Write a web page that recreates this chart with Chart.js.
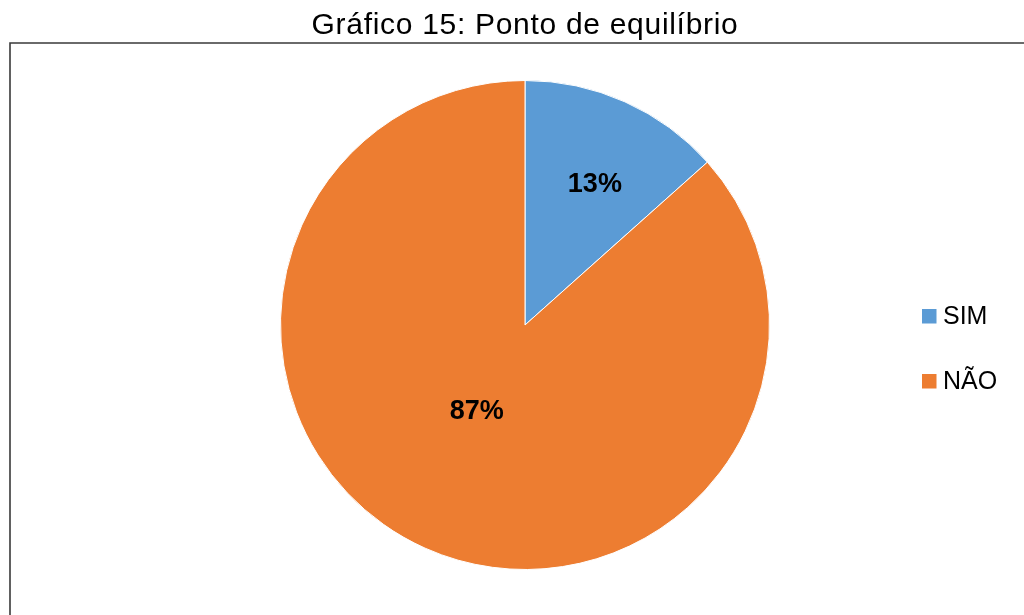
<!DOCTYPE html>
<html>
<head>
<meta charset="utf-8">
<script src="https://cdn.jsdelivr.net/npm/chart.js@4/dist/chart.umd.min.js"></script>
<style>
html,body{margin:0;padding:0;background:#fff;}
#wrap{width:1024px;height:615px;position:relative;}
</style>
</head>
<body>
<div id="wrap"><canvas id="c" width="1024" height="615"></canvas></div>
<script>
const titleText = 'Gráfico 15: Ponto de equilíbrio';
const categories = ['SIM', 'NÃO'];
const values = [13.4, 86.6];
const sliceColors = ['#5B9BD5', '#ED7D31'];
const labelRadiusFrac = [0.64, 0.405];
const labelAngleShiftDeg = [2.4, 5.1];

const FONT = "'Liberation Sans', Arial, sans-serif";

const framePlugin = {
  id: 'frame',
  beforeDraw(chart) {
    const ctx = chart.ctx;
    ctx.save();
    ctx.fillStyle = '#fff';
    ctx.fillRect(0, 0, chart.width, chart.height);
    ctx.strokeStyle = '#3a3a3a';
    ctx.lineWidth = 1.6;
    ctx.beginPath();
    ctx.moveTo(10, chart.height + 2);
    ctx.lineTo(10, 43);
    ctx.lineTo(chart.width + 2, 43);
    ctx.stroke();
    ctx.restore();
    ctx.letterSpacing = '0.7px';
  },
  beforeDatasetsDraw(chart) {
    chart.ctx.letterSpacing = '0px';
  }
};

const sliceLabels = {
  id: 'sliceLabels',
  afterDatasetsDraw(chart) {
    const ctx = chart.ctx;
    const meta = chart.getDatasetMeta(0);
    const total = values.reduce((a, b) => a + b, 0);
    ctx.save();
    ctx.letterSpacing = '0px';
    ctx.font = 'bold 27px ' + FONT;
    ctx.fillStyle = '#000';
    ctx.textAlign = 'center';
    ctx.textBaseline = 'middle';
    meta.data.forEach((arc, i) => {
      const p = arc.getProps(['x', 'y', 'startAngle', 'endAngle', 'outerRadius'], true);
      const mid = (p.startAngle + p.endAngle) / 2 + labelAngleShiftDeg[i] * Math.PI / 180;
      const r = p.outerRadius * labelRadiusFrac[i];
      const pct = Math.round(values[i] / total * 100) + '%';
      ctx.fillText(pct, p.x + Math.cos(mid) * r, p.y + Math.sin(mid) * r);
    });
    ctx.restore();
  }
};

const customLegend = {
  id: 'customLegend',
  afterDraw(chart) {
    const ctx = chart.ctx;
    const area = chart.chartArea;
    const cy = (area.top + area.bottom) / 2;
    const spacing = 65;
    const startY = cy - 9;
    ctx.save();
    ctx.letterSpacing = '0px';
    ctx.font = '25px ' + FONT;
    ctx.textBaseline = 'middle';
    ctx.textAlign = 'left';
    chart.data.labels.forEach((lab, i) => {
      const y = startY + i * spacing;
      ctx.fillStyle = chart.data.datasets[0].backgroundColor[i];
      ctx.fillRect(922, y - 7, 14.5, 14.5);
      ctx.fillStyle = '#000';
      ctx.fillText(lab, 943, y + 1);
    });
    ctx.restore();
  }
};

new Chart(document.getElementById('c'), {
  type: 'pie',
  data: {
    labels: categories,
    datasets: [{
      data: values,
      backgroundColor: sliceColors,
      borderColor: '#ffffff',
      borderWidth: 1
    }]
  },
  options: {
    responsive: false,
    animation: false,
    devicePixelRatio: 1,
    layout: { padding: { left: 200, right: 174, top: 0, bottom: 45 } },
    plugins: {
      legend: { display: false },
      tooltip: { enabled: false },
      title: {
        display: true,
        text: titleText,
        color: '#000',
        font: { family: FONT, size: 30, weight: 'normal', lineHeight: 1.2 },
        padding: { top: 8, bottom: 36 }
      }
    }
  },
  plugins: [framePlugin, sliceLabels, customLegend]
});
</script>
</body>
</html>
